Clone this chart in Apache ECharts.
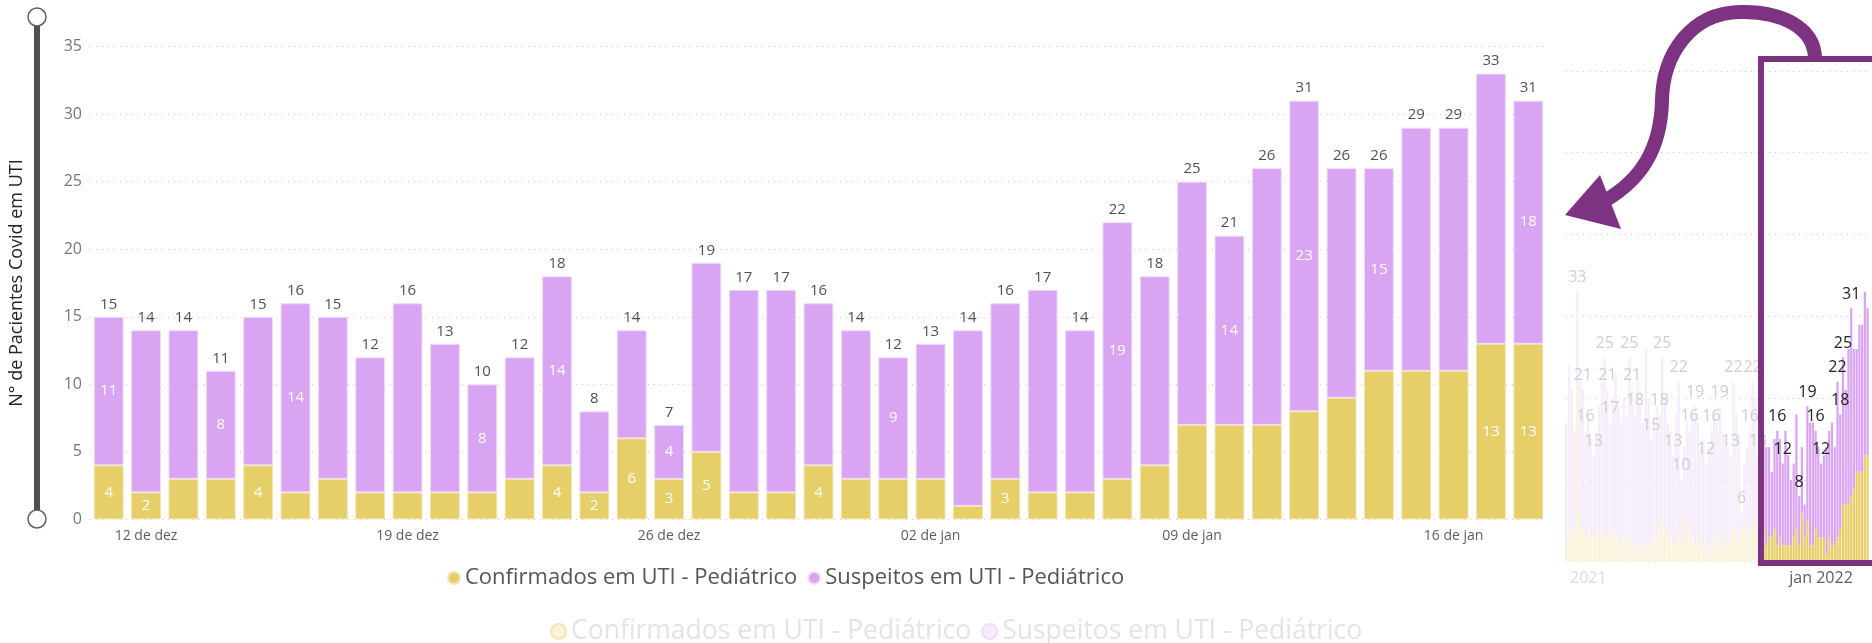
<!DOCTYPE html>
<html>
<head>
<meta charset="utf-8">
<script src="https://cdn.jsdelivr.net/npm/echarts@6/dist/echarts.min.js"></script>
<style>
  html, body { margin: 0; padding: 0; background: #fff; }
  #container { width: 1872px; height: 643px; }
</style>
</head>
<body>
<div id="container"></div>
<script>
// dias do gráfico principal (11 de dez a 18 de jan)
var dias = ['11 de dez', '12 de dez', '13 de dez', '14 de dez', '15 de dez', '16 de dez', '17 de dez',
    '18 de dez', '19 de dez', '20 de dez', '21 de dez', '22 de dez', '23 de dez', '24 de dez',
    '25 de dez', '26 de dez', '27 de dez', '28 de dez', '29 de dez', '30 de dez', '31 de dez',
    '01 de jan', '02 de jan', '03 de jan', '04 de jan', '05 de jan', '06 de jan', '07 de jan',
    '08 de jan', '09 de jan', '10 de jan', '11 de jan', '12 de jan', '13 de jan', '14 de jan',
    '15 de jan', '16 de jan', '17 de jan', '18 de jan'];
var rotulosX = ['12 de dez', '19 de dez', '26 de dez', '02 de jan', '09 de jan', '16 de jan'];
var confirmados = [4, 2, 3, 3, 4, 2, 3, 2, 2, 2, 2, 3, 4, 2, 6, 3, 5, 2, 2, 4, 3, 3, 3, 1, 3, 2, 2, 3, 4, 7, 7, 7, 8, 9, 11, 11, 11, 13, 13];
var suspeitos = [11, 12, 11, 8, 11, 14, 12, 10, 14, 11, 8, 9, 14, 6, 8, 4, 14, 15, 15, 12, 11, 9, 10, 13, 13, 15, 12, 19, 14, 18, 14, 19, 23, 17, 15, 18, 18, 20, 18];
var ticksY = [0, 5, 10, 15, 20, 25, 30, 35];

// quais barras mostram o valor dentro (como no Power BI)
var rotConf = [0, 1, 4, 12, 13, 14, 15, 16, 19, 24, 37, 38];
var rotSusp = [0, 3, 5, 10, 12, 15, 21, 27, 30, 32, 34, 38];

// visão geral (fundo, à direita): dias antes de 11 de dez
var miniTotalAnt = [17, 24, 21, 16, 33, 22, 21, 16, 18, 15,
    13, 16, 19, 22, 25, 21, 17, 20, 23, 19,
    17, 20, 18, 25, 21, 18, 22, 19, 17, 26,
    20, 15, 17, 19, 18, 25, 20, 17, 16, 13,
    18, 22, 10, 14, 17, 16, 18, 19, 17, 14,
    15, 12, 14, 16, 18, 17, 19, 16, 15, 14,
    13, 22, 18, 15, 6, 12, 14, 16, 22, 20,
    13, 17];
var miniConfAnt = [3, 4, 3, 4, 21, 5, 4, 3, 4, 3,
    3, 4, 3, 3, 4, 3, 4, 3, 3, 2,
    3, 3, 2, 3, 2, 2, 1, 2, 1, 2,
    2, 3, 2, 3, 4, 5, 4, 3, 3, 2,
    2, 3, 2, 5, 4, 3, 3, 2, 2, 3,
    2, 1, 1, 2, 3, 3, 2, 2, 3, 2,
    3, 4, 3, 3, 4, 5, 4, 3, 4, 5,
    5, 6];
var miniRotAnt = [4, 6, 7, 10, 14, 15, 16, 23, 24, 25, 31, 34, 35, 39, 41, 42, 45, 47, 51, 53, 56, 60, 61, 64, 67, 68, 70];
var miniRotAtual = [5, 7, 13, 16, 19, 21, 27, 28, 29, 32];

var corConf = '#E6CF68', corSusp = '#D9A4F2';
var corConfFraca = '#FAF3DA', corSuspFraca = '#F6ECFC';
var nomeConf = 'Confirmados em UTI - Pediátrico';
var nomeSusp = 'Suspeitos em UTI - Pediátrico';

var totais = confirmados.map(function (c, i) { return c + suspeitos[i]; });

// monta a série da visão geral
var nAnt = miniTotalAnt.length;
var miniDias = [];
var d0 = new Date(2021, 8, 30);
for (var k = 0; k < nAnt + dias.length; k++) {
    var d = new Date(d0.getTime() + k * 86400000);
    miniDias.push(d.getDate() + '/' + (d.getMonth() + 1) + '/' + d.getFullYear());
}
var miniConf = miniConfAnt.concat(confirmados);
var miniTotal = miniTotalAnt.concat(totais);
var miniSusp = miniTotal.map(function (t, i) { return t - miniConf[i]; });
var miniRot = miniRotAnt.concat(miniRotAtual.map(function (j) { return j + nAnt; }));

var dom = document.getElementById('container');
var myChart = echarts.init(dom);

var option = {
    animation: false,
    grid: [
        { left: 90, right: 325, top: 46.6, bottom: 123.6 },
        { left: 1565, width: 304, top: 70.9, bottom: 81.3 }
    ],
    legend: [
        {
            data: [nomeConf, nomeSusp],
            left: 442, top: 562,
            icon: 'circle', itemWidth: 12, itemHeight: 12, itemGap: 10,
            textStyle: { color: '#555', fontSize: 22, fontFamily: 'Open Sans' }
        },
        {
            data: [
                { name: nomeConf, itemStyle: { color: corConfFraca }, textStyle: { color: '#e4e4e4' } },
                { name: nomeSusp, itemStyle: { color: corSuspFraca }, textStyle: { color: '#e4e4e4' } }
            ],
            left: 545, top: 613,
            icon: 'circle', itemWidth: 15, itemHeight: 15, itemGap: 10,
            selectedMode: false,
            textStyle: { fontSize: 26.5, fontFamily: 'Open Sans' }
        }
    ],
    xAxis: [
        {
            type: 'category', gridIndex: 0, data: dias,
            axisLine: { show: false }, axisTick: { show: false },
            axisLabel: {
                interval: 0, margin: 10, color: '#605E5C', fontSize: 14, fontFamily: 'Open Sans',
                formatter: function (v) { return rotulosX.indexOf(v) >= 0 ? v : ''; }
            }
        },
        {
            type: 'category', gridIndex: 1, data: miniDias,
            axisLine: { show: false }, axisTick: { show: false },
            axisLabel: {
                interval: 0, margin: 9, fontSize: 16, fontFamily: 'Open Sans',
                formatter: function (v, i) {
                    if (i === 8) return '{f|2021}';
                    if (v === '1/1/2022') return '{n|jan 2022}';
                    return '';
                },
                rich: { f: { color: '#dcdcdc', fontSize: 16 }, n: { color: '#605E5C', fontSize: 16 } }
            }
        }
    ],
    yAxis: [
        {
            type: 'value', gridIndex: 0, min: ticksY[0], max: ticksY[ticksY.length - 1], interval: 5,
            name: 'N° de Pacientes Covid em UTI', nameLocation: 'middle', nameGap: 64,
            nameTextStyle: { color: '#252423', fontSize: 18, fontFamily: 'Open Sans' },
            axisLine: { show: false }, axisTick: { show: false },
            axisLabel: { color: '#777', fontSize: 16, margin: 8, fontFamily: 'Open Sans' },
            splitLine: { lineStyle: { type: [1, 5], color: '#c8c8c8' } }
        },
        {
            type: 'value', gridIndex: 1, min: 0, max: 60, interval: 10,
            axisLine: { show: false }, axisTick: { show: false }, axisLabel: { show: false },
            splitLine: { lineStyle: { type: [1, 5], color: '#c8c8c8' } }
        }
    ],
    series: [
        {
            name: nomeConf, type: 'bar', stack: 'a', barCategoryGap: '20%',
            itemStyle: { color: corConf, borderColor: '#F2E6B4', borderWidth: 1 },
            data: confirmados.map(function (v, i) {
                return { value: v, label: { show: rotConf.indexOf(i) >= 0 } };
            }),
            label: { position: 'inside', color: '#fff', fontSize: 15, fontFamily: 'Open Sans' }
        },
        {
            name: nomeSusp, type: 'bar', stack: 'a',
            itemStyle: { color: corSusp, borderColor: '#F0DDFA', borderWidth: 1 },
            data: suspeitos.map(function (v, i) {
                return { value: v, label: { show: rotSusp.indexOf(i) >= 0 } };
            }),
            label: { position: 'inside', color: '#fff', fontSize: 15, fontFamily: 'Open Sans' }
        },
        {
            name: 'Total', type: 'scatter', symbolSize: 0, silent: true,
            data: totais,
            label: { show: true, position: 'top', distance: 5, color: '#252423', fontSize: 15, fontFamily: 'Open Sans' }
        },
        {
            name: nomeConf, type: 'bar', stack: 'm', xAxisIndex: 1, yAxisIndex: 1, barCategoryGap: '18%',
            itemStyle: { color: corConf },
            data: miniConf.map(function (v, i) {
                return { value: v, itemStyle: { color: i < nAnt ? corConfFraca : corConf } };
            })
        },
        {
            name: nomeSusp, type: 'bar', stack: 'm', xAxisIndex: 1, yAxisIndex: 1,
            itemStyle: { color: corSusp },
            data: miniSusp.map(function (v, i) {
                return {
                    value: v,
                    itemStyle: { color: i < nAnt ? corSuspFraca : corSusp },
                    label: { show: miniRot.indexOf(i) >= 0, color: i < nAnt ? '#cfcfcf' : '#252423' }
                };
            }),
            label: {
                position: 'top', distance: 6, fontSize: 16, fontFamily: 'Open Sans',
                formatter: function (p) { return miniTotal[p.dataIndex]; }
            }
        }
    ],
    graphic: [
        // barra de zoom vertical (Power BI)
        { type: 'line', shape: { x1: 37, y1: 18, x2: 37, y2: 519 }, style: { stroke: '#505050', lineWidth: 6 } },
        { type: 'circle', shape: { cx: 37, cy: 17, r: 9 }, style: { fill: '#fff', stroke: '#606060', lineWidth: 1.5 } },
        { type: 'circle', shape: { cx: 37, cy: 519, r: 9 }, style: { fill: '#fff', stroke: '#606060', lineWidth: 1.5 } },
        // destaque e seta
        { type: 'rect', z: 100, shape: { x: 1761, y: 59, width: 130, height: 504 }, style: { fill: 'none', stroke: '#7E3282', lineWidth: 6 } },
        { type: 'bezierCurve', z: 100, shape: { x1: 1815, y1: 59, cpx1: 1815, cpy1: 28, cpx2: 1782, cpy2: 11, x2: 1740, y2: 12 }, style: { stroke: '#7E3282', lineWidth: 14, fill: 'none' } },
        { type: 'bezierCurve', z: 100, shape: { x1: 1740, y1: 12, cpx1: 1690, cpy1: 13, cpx2: 1663, cpy2: 55, x2: 1662, y2: 100 }, style: { stroke: '#7E3282', lineWidth: 14, fill: 'none', lineCap: 'round' } },
        { type: 'bezierCurve', z: 100, shape: { x1: 1662, y1: 100, cpx1: 1661, cpy1: 150, cpx2: 1640, cpy2: 180, x2: 1606, y2: 200 }, style: { stroke: '#7E3282', lineWidth: 14, fill: 'none', lineCap: 'round' } },
        { type: 'polygon', z: 100, shape: { points: [[1565, 215], [1600, 175], [1621, 229]] }, style: { fill: '#7E3282' } }
    ]
};
myChart.setOption(option);
</script>
</body>
</html>
